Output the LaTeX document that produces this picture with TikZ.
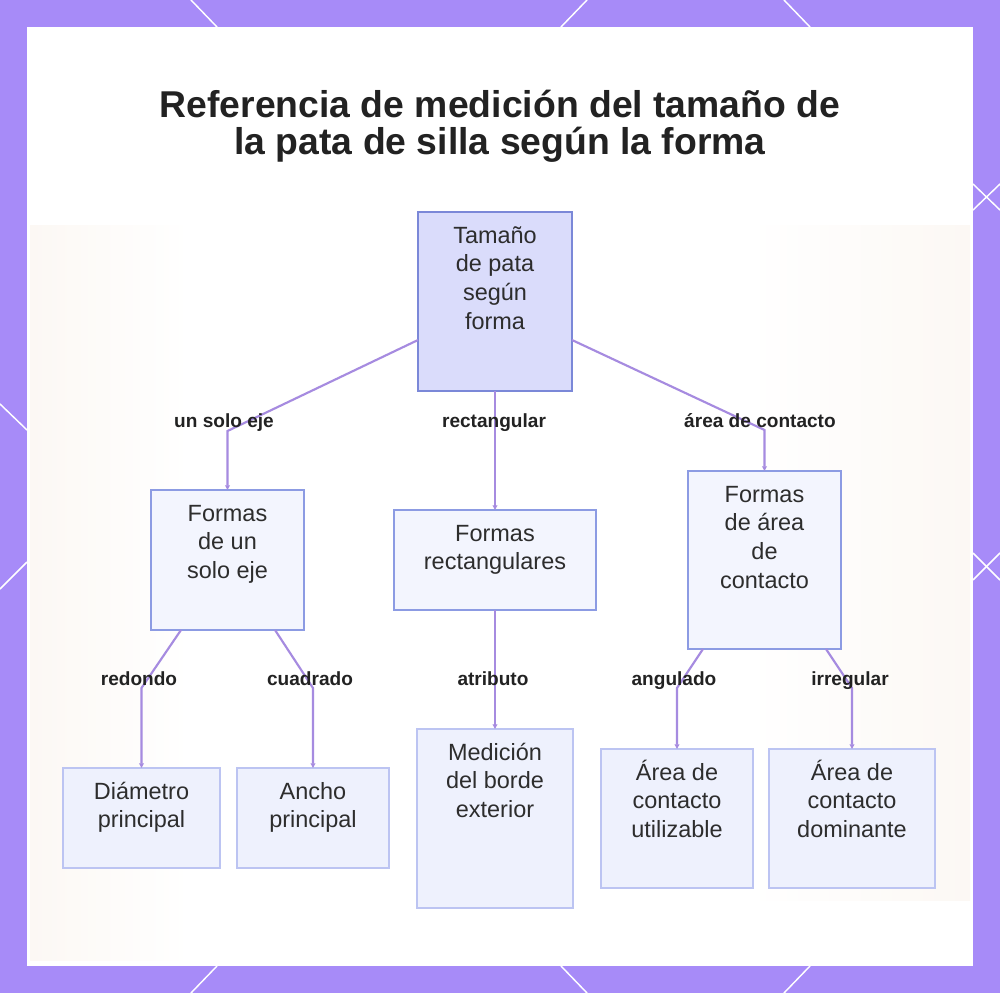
\documentclass[tikz,border=0pt]{standalone}
\usepackage{fontspec}
\setmainfont{Liberation Sans}
\usetikzlibrary{arrows.meta,calc}
\definecolor{framec}{HTML}{A78BF8}
\definecolor{edgec}{HTML}{A68BE0}
\definecolor{rootf}{HTML}{DADCFB}
\definecolor{rootb}{HTML}{7B88D8}
\definecolor{midf}{HTML}{F3F5FE}
\definecolor{midb}{HTML}{8C9BE3}
\definecolor{leaff}{HTML}{EEF1FD}
\definecolor{leafb}{HTML}{BCC4F2}
\definecolor{txtc}{HTML}{2D2D2D}
\definecolor{lblc}{HTML}{222222}
\definecolor{tintc}{HTML}{FCF8F4}
\newcommand{\bxt}[3]{\parbox[c][\dimexpr #2pt*3/4\relax][t]{\dimexpr #1pt*3/4\relax}{\fontsize{17.6pt}{21.6pt}\selectfont\centering\rule{0pt}{23.25pt}#3\par}}
\tikzset{
  boxbase/.style={rectangle, inner sep=0pt, outer sep=0pt, text=txtc},
  rootbox/.style={boxbase, draw=rootb, fill=rootf, line width=1.5pt},
  midbox/.style={boxbase, draw=midb, fill=midf, line width=1.4pt},
  leafbox/.style={boxbase, draw=leafb, fill=leaff, line width=1.2pt},
  edge/.style={draw=edgec, line width=1.6pt, -{Triangle[length=3.5pt,width=3.5pt]}},
  elabel/.style={font=\fontsize{14.3pt}{16pt}\selectfont\bfseries, text=lblc, anchor=base, inner sep=0pt},
  titletext/.style={font=\fontsize{28pt}{28pt}\selectfont\bfseries, text=lblc, anchor=base, inner sep=0pt},
  decoline/.style={draw=white, line width=1.1pt},
}
\begin{document}
\begin{tikzpicture}[x=0.75pt,y=-0.75pt]
\useasboundingbox (0,0) rectangle (1000,993);
% frame
\fill[framec] (0,0) rectangle (1000,993);
\draw[decoline] (191,0) -- (217,27);
\draw[decoline] (587,0) -- (561,27);
\draw[decoline] (784,0) -- (810,27);
\draw[decoline] (217,966) -- (191,993);
\draw[decoline] (561,966) -- (587,993);
\draw[decoline] (810,966) -- (784,993);
\draw[decoline] (0,404) -- (27,430);
\draw[decoline] (27,562) -- (0,589);
\draw[decoline] (973,184) -- (1000,210);
\draw[decoline] (973,210) -- (1000,184);
\draw[decoline] (973,553) -- (1000,580);
\draw[decoline] (973,580) -- (1000,553);
% panel
\fill[white] (27,27) rectangle (973,966);
\shade[left color=tintc, right color=white] (30,225) rectangle (190,960);
\shade[left color=white, right color=tintc] (750,225) rectangle (970,900);
% title
\node[titletext] (t1) at (500,117) {Referencia de medición del tamaño de};
\node[titletext] (t2) at (500,154) {la pata de silla según la forma};
% nodes
\node[rootbox] (root) at (495,301.5) {\bxt{154}{179}{Tamaño\\de pata\\según\\forma}};
\node[midbox] (A) at (227.5,560) {\bxt{153}{140}{Formas\\de un\\solo eje}};
\node[midbox] (B) at (495,560) {\bxt{202}{100}{Formas\\rectangulares}};
\node[midbox] (C) at (764.5,560) {\bxt{153}{178}{Formas\\de área\\de\\contacto}};
\node[leafbox] (D) at (141.5,818) {\bxt{157}{100}{Diámetro\\principal}};
\node[leafbox] (E) at (313,818) {\bxt{152}{100}{Ancho\\principal}};
\node[leafbox] (F) at (495,818.5) {\bxt{156}{179}{Medición\\del borde\\exterior}};
\node[leafbox] (G) at (677,818.5) {\bxt{152}{139}{Área de\\contacto\\utilizable}};
\node[leafbox] (H) at (852,818.5) {\bxt{166}{139}{Área de\\contacto\\dominante}};
% bend points
\coordinate (bA) at (227.5,431);
\coordinate (bC) at (764.5,430);
\coordinate (bD) at (141.5,688);
\coordinate (bE) at (313,688);
\coordinate (bG) at (677,688);
\coordinate (bH) at (852,688);
% edges
\draw[edge] ($(root.south west)+(0,-51)$) -- (bA) -- (A.north);
\draw[edge] (root.south) -- (B.north);
\draw[edge] ($(root.south east)+(0,-51)$) -- (bC) -- (C.north);
\draw[edge] ($(A.south west)+(30,0)$) -- (bD) -- (D.north);
\draw[edge] ($(A.south east)+(-29,0)$) -- (bE) -- (E.north);
\draw[edge] (B.south) -- (F.north);
\draw[edge] ($(C.south west)+(15,0)$) -- (bG) -- (G.north);
\draw[edge] ($(C.south east)+(-15,0)$) -- (bH) -- (H.north);
% labels
\node[elabel] (lA) at (224,427) {un solo eje};
\node[elabel] (lB) at (494,427) {rectangular};
\node[elabel] (lC) at (760,427) {área de contacto};
\node[elabel] (lD) at (139,685) {redondo};
\node[elabel] (lE) at (310,685) {cuadrado};
\node[elabel] (lF) at (493,685) {atributo};
\node[elabel] (lG) at (674,685) {angulado};
\node[elabel] (lH) at (850,685) {irregular};
\end{tikzpicture}
\end{document}
